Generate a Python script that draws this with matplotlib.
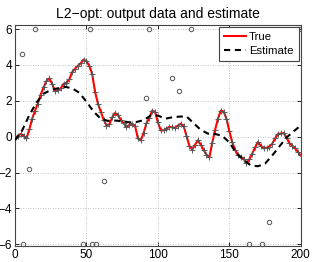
import numpy as np
import matplotlib
matplotlib.use("Agg")
import matplotlib.pyplot as plt

plt.rcParams['font.family'] = ['Liberation Sans', 'DejaVu Sans']

# True signal sampled at x = 0, 2, ..., 200
true_x = list(range(0, 201, 2))
true_y = [-0.1, 0.05, 0.15, 0.05, -0.1, 0.4, 1.0, 1.45, 1.85, 2.35,
          2.75, 3.1, 3.25, 2.95, 2.55, 2.6, 2.7, 2.95, 3.0, 3.2,
          3.6, 3.8, 3.95, 4.1, 4.3, 4.2, 3.95, 3.5, 2.5, 1.85,
          1.4, 0.95, 0.62, 0.7, 1.07, 1.32, 1.2, 0.95, 0.75, 0.55,
          0.65, 0.72, 0.6, -0.1, -0.2, 0.2, 0.75, 1.05, 1.45, 1.39,
          0.8, 0.35, 0.35, 0.45, 0.55, 0.52, 0.5, 0.62, 0.72, 0.6,
          0.05, -0.5, -0.72, -0.45, -0.2, -0.45, -0.75, -1.0, -1.15, -0.35,
          0.37, 1.0, 1.45, 1.4, 1.0, 0.3, -0.3, -0.74, -1.0, -1.12,
          -1.25, -1.48, -1.25, -0.95, -0.6, -0.3, -0.5, -0.65, -0.62, -0.55,
          -0.4, -0.1, 0.15, 0.18, 0.2, -0.05, -0.35, -0.5, -0.65, -0.85,
          -1.05]

# Estimate sampled at x = 0, 5, ..., 200
est_x = list(range(0, 201, 5))
est_y = [-0.2, 0.35, 1.2, 1.9, 2.4, 2.6, 2.7, 2.78, 2.7, 2.45,
         1.95, 1.4, 1.0, 0.88, 0.9, 0.86, 0.8, 0.82, 0.92, 1.18,
         1.18, 1.0, 1.08, 1.12, 1.13, 0.75, 0.38, 0.17, 0.15, 0.05,
         -0.32, -0.93, -1.3, -1.6, -1.65, -1.5, -1.05, -0.55, -0.05, 0.3,
         0.62]

# Outliers (clipped to +/-6)
out_x = [5, 14, 52.5, 94, 123, 199, 10, 62, 92, 110, 115, 178,
         5.5, 47.5, 54, 56.5, 164, 173]
out_y = [4.6, 6, 6, 6, 6, 6, -1.83, -2.45, 2.17, 3.3, 2.57, -4.75,
         -6, -6, -6, -6, -6, -6]

fig = plt.figure(figsize=(3.13, 2.62), dpi=100)
ax = fig.add_axes([0.048, 0.061, 0.913, 0.845])

ax.plot(out_x, out_y, 'o', mfc='none', mec='#555555', ms=3.2, mew=0.7,
        clip_on=False, zorder=3)
ax.plot(true_x, true_y, '-', color='#ff0000', lw=1.5, label='True', zorder=4)
ax.plot(true_x, true_y, '+', color='#555555', ms=4, mew=0.65, zorder=5)
ax.plot(est_x, est_y, '--', color='black', lw=1.5, dashes=(3, 2.2),
        label='Estimate', zorder=6)

ax.set_xlim(0, 200)
ax.set_ylim(-6.1, 6.25)
ax.set_xticks([0, 50, 100, 150, 200])
ax.set_yticks([-6, -4, -2, 0, 2, 4, 6])
ax.grid(True, linestyle=(0, (1, 2)), color='#b0b0b0', lw=0.6)
ax.tick_params(direction='in', labelsize=8.5, length=3, width=0.6,
               top=True, right=True, pad=2)
for s in ax.spines.values():
    s.set_color('#444444')
    s.set_linewidth(0.8)

ax.set_title('L2\u2212opt: output data and estimate', fontsize=10, pad=5)

leg = ax.legend(loc='upper right', fontsize=8.2, handlelength=1.9,
                borderaxespad=0.2, borderpad=0.45, labelspacing=0.35,
                handletextpad=0.25, fancybox=False, framealpha=1)
leg.get_frame().set_edgecolor('#444444')
leg.get_frame().set_linewidth(0.8)

fig.savefig('out.png', dpi=100)
